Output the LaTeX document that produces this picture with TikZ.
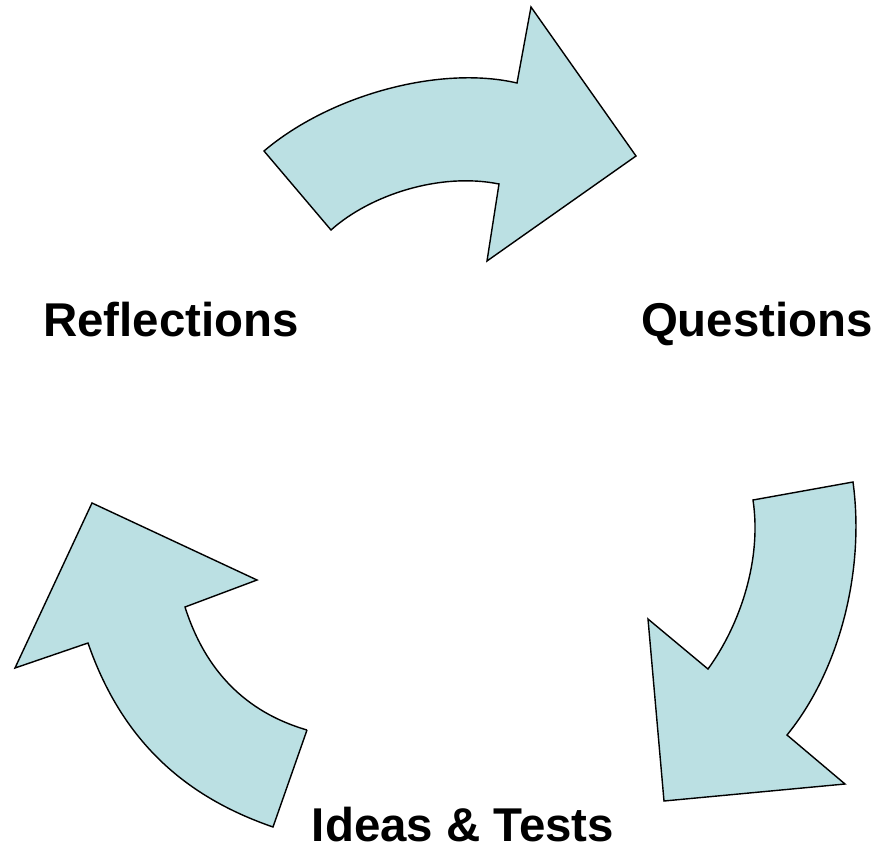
\documentclass[tikz,border=0pt]{standalone}
\usepackage{fontspec}
\setsansfont{Liberation Sans}
\usepackage{tikz}
\usetikzlibrary{positioning}
\definecolor{paleteal}{HTML}{BBE0E3}

\begin{document}
\begin{tikzpicture}[x=0.02cm, y=-0.02cm,
			bent/.style={draw=black, fill=paleteal, line width=0.8pt, line join=miter},
			stage/.style={inner sep=0, anchor=base, font=\fontsize{27}{32}\selectfont\sffamily\bfseries}]
			
			\useasboundingbox (0,0) rectangle (880,849);
			
			% arrow from Reflections to Questions
			\draw[bent] (264,151) .. controls (330,95) and (440,65) .. (517,83)
				-- (531,7) -- (636,156) -- (487,261) -- (499,184)
				.. controls (440,172) and (370,195) .. (331,230) -- cycle;
			
			% arrow from Questions to Ideas & Tests
			\draw[bent] (853,482) .. controls (865,570) and (840,670) .. (787,735)
				-- (845,784) -- (664,801) -- (648,619) -- (708,669)
				.. controls (740,625) and (762,560) .. (753,500) -- cycle;
			
			% arrow from Ideas & Tests to Reflections
			\draw[bent] (307,730) -- (273,827)
				.. controls (195,800) and (125,750) .. (88,643)
				-- (15,668) -- (92,503) -- (257,580) -- (185,607)
				.. controls (205,670) and (245,712) .. (307,730);
			
			\node[stage] (refl) at (171,336) {Reflections};
			\node[stage] (ques) at (757,336) {Questions};
			\node[stage] (tests) at (463,841) {Ideas \& Tests};
		\end{tikzpicture}
\end{document}
